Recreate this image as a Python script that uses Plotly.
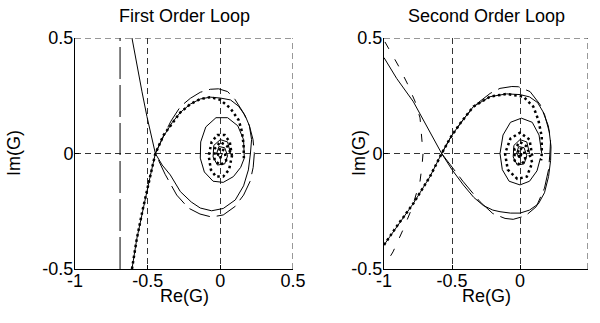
import plotly.graph_objects as go

# ---- First order loop (left) ----
sol1_x = [-0.608, -0.575, -0.539, -0.505, -0.478, -0.447,
          -0.40, -0.344, -0.275, -0.2, -0.138, -0.06, 0.02, 0.103, 0.16, 0.193, 0.207,
          0.215, 0.2, 0.17, 0.125, 0.07, 0.0,
          -0.069, -0.138, -0.206, -0.275, -0.33, -0.39, -0.447,
          -0.49, -0.535, -0.575, -0.608, None,
          0.165, 0.16, 0.12, 0.05, -0.03, -0.1, -0.135, -0.138, -0.11, -0.05, 0.02, 0.09, 0.14, 0.165, None,
          0.07, 0.05, 0.0, -0.045, -0.05, -0.02, 0.03, 0.05, 0.03, -0.01, -0.025, 0.0, 0.015, 0.0]
sol1_y = [0.5, 0.38, 0.267, 0.16, 0.08, 0.0,
          -0.05, -0.093, -0.165, -0.21, -0.236, -0.248, -0.238, -0.201, -0.14, -0.071, 0.0,
          0.06, 0.12, 0.165, 0.205, 0.232, 0.24,
          0.244, 0.236, 0.214, 0.178, 0.135, 0.075, 0.0,
          -0.12, -0.245, -0.37, -0.5, None,
          -0.02, 0.06, 0.12, 0.155, 0.155, 0.115, 0.05, -0.02, -0.08, -0.12, -0.125, -0.1, -0.06, -0.02, None,
          0.0, 0.05, 0.06, 0.035, -0.015, -0.05, -0.045, -0.01, 0.025, 0.03, 0.0, -0.02, 0.0, 0.0]

dot1_x = [-0.608, -0.575, -0.535, -0.49, -0.447, -0.39, -0.33, -0.275, -0.206, -0.138, -0.069,
          0.0, 0.069, 0.126, 0.149, 0.16, 0.162, None,
          0.08, 0.065, 0.03, -0.02, -0.06, -0.08, -0.065, -0.03, 0.02, 0.06, 0.08,
          0.05, 0.0, -0.04, -0.04, 0.0, 0.04, 0.03, 0.0, -0.02, 0.0, 0.01]
dot1_y = [-0.5, -0.37, -0.245, -0.12, 0.0, 0.08, 0.13, 0.178, 0.214, 0.236, 0.244,
          0.232, 0.196, 0.145, 0.094, 0.037, -0.02, None,
          -0.01, 0.05, 0.08, 0.08, 0.05, -0.01, -0.07, -0.1, -0.1, -0.07, -0.01,
          0.03, 0.05, 0.02, -0.03, -0.05, -0.03, 0.01, 0.025, 0.0, -0.02, 0.0]

dash1_x = [-0.447, -0.4, -0.34, -0.275, -0.206, -0.138, -0.069, -0.012, 0.05, 0.1, 0.16, 0.2,
           0.225, 0.234, 0.226, 0.205, 0.16, 0.1, 0.02, -0.06, -0.14, -0.22, -0.3, -0.38, -0.447]
dash1_y = [0.0, 0.065, 0.14, 0.203, 0.239, 0.265, 0.278, 0.28, 0.268, 0.235, 0.175, 0.12,
           0.06, 0.0, -0.06, -0.12, -0.18, -0.23, -0.266, -0.275, -0.262, -0.236, -0.18, -0.09, 0.0]

asym1_x = [-0.69, -0.69, -0.69]
asym1_y = [-0.5, 0.0, 0.5]

# ---- Second order loop (right) ----
sol2_x = [-1.0, -0.907, -0.784, -0.68, -0.576,
          -0.5, -0.417, -0.34, -0.27, -0.2, -0.147, -0.07, 0.0, 0.07, 0.135, 0.18, 0.21, 0.225, 0.228,
          0.215, 0.18, 0.13, 0.07, 0.0,
          -0.098, -0.22, -0.343, -0.44, -0.51, -0.576,
          -0.662, -0.784, -0.9, -1.0, None,
          0.16, 0.14, 0.09, 0.01, -0.07, -0.125, -0.147, -0.13, -0.08, 0.0, 0.07, 0.125, 0.15, None,
          0.07, 0.05, 0.0, -0.045, -0.05, -0.02, 0.03, 0.05, 0.03, -0.01, -0.025, 0.0, 0.015, 0.0]
sol2_y = [0.415, 0.325, 0.224, 0.115, 0.0,
          -0.07, -0.136, -0.19, -0.225, -0.245, -0.252, -0.258, -0.258, -0.245, -0.218, -0.17, -0.1, -0.03, 0.03,
          0.094, 0.17, 0.22, 0.245, 0.255,
          0.258, 0.246, 0.203, 0.13, 0.07, 0.0,
          -0.1, -0.216, -0.31, -0.396, None,
          0.0, 0.08, 0.135, 0.153, 0.135, 0.08, 0.0, -0.07, -0.12, -0.136, -0.12, -0.075, -0.02, None,
          0.0, 0.05, 0.06, 0.035, -0.015, -0.05, -0.045, -0.01, 0.025, 0.03, 0.0, -0.02, 0.0, 0.0]

dot2_x = [-1.0, -0.9, -0.784, -0.662, -0.576, -0.51, -0.44, -0.343, -0.22, -0.098,
          0.025, 0.098, 0.135, 0.16, 0.16, 0.155, None,
          0.09, 0.07, 0.0, -0.07, -0.11, -0.09, -0.02, 0.05, 0.09,
          0.05, 0.0, -0.04, -0.04, 0.0, 0.04, 0.03, 0.0, -0.02, 0.0, 0.01]
dot2_y = [-0.396, -0.31, -0.216, -0.1, 0.0, 0.07, 0.13, 0.203, 0.246, 0.258,
          0.246, 0.203, 0.145, 0.073, 0.0, -0.03, None,
          -0.01, 0.06, 0.09, 0.065, 0.0, -0.07, -0.11, -0.1, -0.04,
          0.03, 0.05, 0.02, -0.03, -0.05, -0.03, 0.01, 0.025, 0.0, -0.02, 0.0]

dash2_x = [-0.576, -0.5, -0.4, -0.318, -0.22, -0.147, -0.06, -0.012, 0.074, 0.15, 0.208, 0.225,
           0.22, 0.21, 0.18, 0.12, 0.04, -0.05, -0.11, -0.2, -0.294, -0.42, -0.576]
dash2_y = [0.0, 0.08, 0.16, 0.215, 0.26, 0.282, 0.29, 0.289, 0.268, 0.21, 0.12, 0.06,
           0.0, -0.07, -0.15, -0.23, -0.27, -0.285, -0.281, -0.26, -0.209, -0.12, 0.0]

asym2_x = [-0.993, -0.897, -0.83, -0.77, -0.735, -0.72, -0.713, -0.72, -0.735, -0.794, -0.86, -0.934, -0.993]
asym2_y = [0.483, 0.383, 0.305, 0.223, 0.154, 0.058, 0.0, -0.05, -0.12, -0.236, -0.33, -0.426, -0.483]

x_ticks = [-1, -0.5, 0, 0.5]
x_tick_text = ["-1", "-0.5", "0", "0.5"]
y_ticks = [-0.5, 0, 0.5]
y_tick_text = ["-0.5", "0", "0.5"]

FONT = "Liberation Sans, Arial, sans-serif"
FS = 18
W, H = 600, 323
GRID_DASH = "6px,4px"

fig = go.Figure()


def add_panel(xa, ya, sol_x, sol_y, dot_x, dot_y, dash_x, dash_y, asym_x, asym_y, asym_dash):
    fig.add_trace(go.Scatter(x=dash_x, y=dash_y, mode="lines", xaxis=xa, yaxis=ya,
                             line=dict(color="black", width=1, dash="22px,7px")))
    fig.add_trace(go.Scatter(x=asym_x, y=asym_y, mode="lines", xaxis=xa, yaxis=ya,
                             line=dict(color="black", width=1, dash=asym_dash)))
    fig.add_trace(go.Scatter(x=sol_x, y=sol_y, mode="lines", xaxis=xa, yaxis=ya,
                             line=dict(color="black", width=1)))
    fig.add_trace(go.Scatter(x=dot_x, y=dot_y, mode="lines", xaxis=xa, yaxis=ya,
                             line=dict(color="black", width=2.5, dash="2.5px,3px")))
    # grid lines on the top and right edges (plotly skips those at range ends)
    fig.add_shape(type="line", xref=xa, yref=ya, x0=-1, x1=0.5, y0=0.5, y1=0.5,
                  line=dict(color="#333", width=1, dash=GRID_DASH))
    fig.add_shape(type="line", xref=xa, yref=ya, x0=0.5, x1=0.5, y0=-0.5, y1=0.5,
                  line=dict(color="#333", width=1, dash=GRID_DASH))


add_panel("x", "y", sol1_x, sol1_y, dot1_x, dot1_y, dash1_x, dash1_y, asym1_x, asym1_y, "32px,6px")
add_panel("x2", "y2", sol2_x, sol2_y, dot2_x, dot2_y, dash2_x, dash2_y, asym2_x, asym2_y, "8px,12px")

axis_common = dict(showline=True, linecolor="black", linewidth=1, mirror=False,
                   ticks="inside", ticklen=4, tickcolor="black", automargin=False,
                   showgrid=True, gridcolor="#333", gridwidth=1, griddash=GRID_DASH,
                   zeroline=False, tickfont=dict(family=FONT, size=FS, color="black"))

y_dom = [1 - 269 / H, 1 - 38 / H]
fig.update_layout(
    template="none",
    width=W, height=H, margin=dict(l=0, r=0, t=0, b=0, autoexpand=False),
    paper_bgcolor="white", plot_bgcolor="white", showlegend=False,
    xaxis=dict(domain=[75 / W, 293 / W], range=[-1, 0.5], anchor="y", ticklabelstandoff=-5,
               tickvals=x_ticks, ticktext=x_tick_text, **axis_common),
    yaxis=dict(domain=y_dom, range=[-0.5, 0.5], anchor="x", ticklabelstandoff=-3,
               tickvals=y_ticks, ticktext=y_tick_text, **axis_common),
    xaxis2=dict(domain=[384 / W, 588 / W], range=[-1, 0.5], anchor="y2", ticklabelstandoff=-5,
                tickvals=x_ticks, ticktext=x_tick_text, **axis_common),
    yaxis2=dict(domain=y_dom, range=[-0.5, 0.5], anchor="x2", ticklabelstandoff=-3,
                tickvals=y_ticks, ticktext=y_tick_text, **axis_common),
)

labels = [
    ("First Order Loop", 184, 16, 0),
    ("Second Order Loop", 486, 16, 0),
    ("Re(G)", 184, 296, 0),
    ("Re(G)", 486, 296, 0),
    ("Im(G)", 14, 153, -90),
    ("Im(G)", 359, 153, -90),
]
for text, px, py, ang in labels:
    fig.add_annotation(text=text, x=px / W, y=1 - py / H, xref="paper", yref="paper",
                       showarrow=False, textangle=ang, xanchor="center", yanchor="middle",
                       font=dict(family=FONT, size=FS, color="black"))

fig.write_html("out.html", config={"displayModeBar": False},
               post_script="document.body.style.margin='0px';")
